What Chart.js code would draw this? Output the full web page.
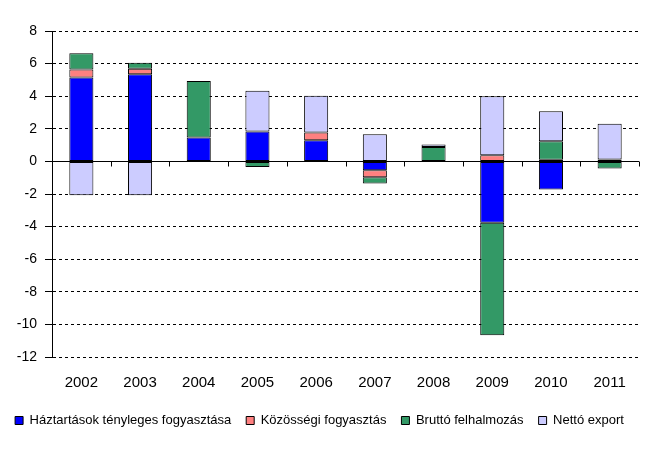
<!DOCTYPE html>
<html>
<head>
<meta charset="utf-8">
<script src="https://cdn.jsdelivr.net/npm/chart.js@4"></script>
<style>
  body { margin: 0; background: #fff; }
</style>
</head>
<body>
<canvas id="chart" width="658" height="463"></canvas>
<script>
// ------------------ Data ------------------
const years = ["2002", "2003", "2004", "2005", "2006", "2007", "2008", "2009", "2010", "2011"];
const haztartasok = [5.15, 5.34, 1.47, 1.84, 1.29, -0.55, 0, -3.77, -1.72, 0.12];
const kozossegi = [0.49, 0.34, 0, 0, 0.49, -0.43, 0, 0.37, 0.10, 0];
const brutto = [0.99, 0.37, 3.47, -0.35, 0, -0.37, 0.88, -6.9, 1.13, -0.43];
const netto = [-2.07, -2.07, 0, 2.49, 2.24, 1.66, 0.16, 3.62, 1.84, 2.19];
const yTicks = [-12, -10, -8, -6, -4, -2, 0, 2, 4, 6, 8];

const font = "'Liberation Sans', Arial, sans-serif";

// zero line + category ticks drawn on top of the bars
const zeroAxis = {
  id: "zeroAxis",
  afterDatasetsDraw(chart) {
    const { ctx, chartArea, scales } = chart;
    const y0 = Math.round(scales.y.getPixelForValue(0)) + 0.5;
    ctx.save();
    ctx.strokeStyle = "#000";
    ctx.lineWidth = 1;
    ctx.beginPath();
    ctx.moveTo(chartArea.left, y0);
    ctx.lineTo(chartArea.right, y0);
    const step = (chartArea.right - chartArea.left) / years.length;
    for (let i = 1; i <= years.length; i++) {
      const x = Math.round(chartArea.left + i * step) + 0.5;
      ctx.moveTo(x, y0);
      ctx.lineTo(x, y0 + 5);
    }
    ctx.stroke();
    ctx.restore();
  }
};

function series(label, data, color) {
  return {
    label,
    data,
    backgroundColor: color,
    borderColor: "#000",
    borderWidth: 1,
    borderSkipped: false,
    barPercentage: 0.41,
    categoryPercentage: 1
  };
}

new Chart(document.getElementById("chart"), {
  type: "bar",
  data: {
    labels: years,
    datasets: [
      series("Háztartások tényleges fogyasztása", haztartasok, "#0000ff"),
      series("Közösségi fogyasztás", kozossegi, "#ff8080"),
      series("Bruttó felhalmozás", brutto, "#339966"),
      series("Nettó export", netto, "#ccccff")
    ]
  },
  options: {
    responsive: false,
    animation: false,
    layout: { padding: { left: 0, right: 19, top: 31, bottom: 26 } },
    plugins: {
      legend: {
        position: "bottom",
        labels: {
          boxWidth: 8,
          boxHeight: 8,
          padding: 15,
          color: "#000",
          font: { family: font, size: 13 }
        }
      },
      tooltip: { enabled: false }
    },
    scales: {
      x: {
        stacked: true,
        afterFit(scale) { scale.height -= 10; },
        grid: { display: false, drawTicks: false },
        border: { display: false },
        ticks: { color: "#000", padding: 17, font: { family: font, size: 15 } }
      },
      y: {
        stacked: true,
        min: -12,
        max: 8,
        afterFit(scale) { scale.width = 52; },
        afterBuildTicks(scale) { scale.ticks = yTicks.map(v => ({ value: v })); },
        grid: {
          color: "#000",
          lineWidth: 1,
          tickLength: 7,
          tickColor: "#000",
          tickBorderDash: []
        },
        border: {
          display: true,
          color: "#000",
          width: 1,
          dash: ctx => (ctx.tick && ctx.tick.value === 0 ? [] : [3, 3])
        },
        ticks: { color: "#000", padding: 8, font: { family: font, size: 14 } }
      }
    }
  },
  plugins: [zeroAxis]
});
</script>
</body>
</html>
